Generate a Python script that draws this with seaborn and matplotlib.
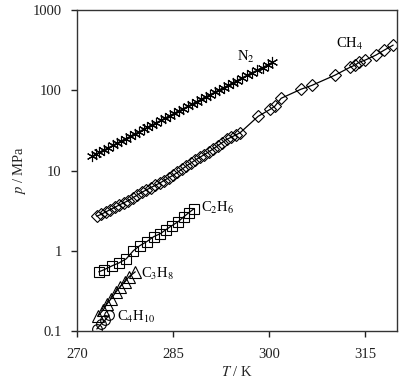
import numpy as np
import pandas as pd
import matplotlib
matplotlib.use("Agg")
import matplotlib.pyplot as plt
import seaborn as sns
from matplotlib.ticker import NullLocator

# (T in K, p in MPa)
n2_T = [272.3, 272.9, 273.5, 274.2, 274.9, 275.6, 276.2, 276.9, 277.6, 278.3,
        279.0, 279.7, 280.4, 281.0, 281.7, 282.4, 283.1, 283.8, 284.5, 285.2,
        285.9, 286.6, 287.3, 288.0, 288.7, 289.4, 290.1, 290.8, 291.5, 292.2,
        292.9, 293.6, 294.3, 295.0, 295.8, 296.6, 297.4, 298.2, 299.0, 299.8, 300.5]
n2_p = [15.0, 15.9, 16.8, 18.0, 19.2, 20.6, 21.8, 23.3, 24.9, 26.6,
        28.5, 30.5, 32.6, 34.5, 36.9, 39.5, 42.2, 45.1, 48.3, 51.6,
        55.2, 59.0, 63.1, 67.5, 72.2, 77.2, 82.5, 88.3, 94.4, 101,
        108, 115, 123, 132, 143, 154, 166, 179, 192, 207, 222]

ch4_T = [273.1, 273.8, 274.5, 275.2, 275.9, 276.6, 277.3, 278.0, 278.7, 279.4,
         280.1, 280.8, 281.5, 282.2, 282.9, 283.6, 284.3, 285.0, 285.7, 286.4,
         287.1, 287.8, 288.5, 289.2, 289.9, 290.6, 291.3, 292.0, 292.7, 293.4,
         294.1, 294.8, 295.5,
         298.3, 300.2, 300.9, 301.9, 305.0, 306.7, 310.3, 312.7, 313.4, 314.1,
         315.0, 316.7, 318.0, 319.4]
ch4_p = [2.69, 2.85, 3.05, 3.26, 3.47, 3.72, 3.95, 4.22, 4.56, 4.93,
         5.33, 5.71, 6.10, 6.52, 6.95, 7.50, 8.09, 8.71, 9.48, 10.4,
         11.4, 12.4, 13.5, 14.6, 15.8, 17.1, 18.6, 20.4, 22.3, 24.4,
         26.0, 27.7, 29.6,
         47.3, 57.9, 63.1, 79.4, 103, 115, 154, 194, 205, 224,
         237, 274, 316, 365]

c2h6_T = [273.4, 274.2, 275.5, 276.6, 277.7, 278.8, 279.8, 280.9, 282.0, 283.0,
          283.9, 284.8, 285.8, 286.7, 287.5, 288.3]
c2h6_p = [0.546, 0.579, 0.65, 0.708, 0.794, 1.0, 1.155, 1.30, 1.50, 1.63,
          1.83, 2.05, 2.30, 2.66, 2.99, 3.35]

c3h8_T = [273.3, 274.1, 274.7, 275.3, 276.1, 276.7, 277.5, 278.1, 279.1]
c3h8_p = [0.154, 0.183, 0.218, 0.251, 0.307, 0.355, 0.41, 0.473, 0.546]

c4h10_T = [273.1, 273.75, 274.4, 275.0]
c4h10_p = [0.106, 0.122, 0.137, 0.158]

series = [
    (n2_T, n2_p, (6, 2, 0), 8),
    (ch4_T, ch4_p, "D", 6),
    (c2h6_T, c2h6_p, "s", 7),
    (c3h8_T, c3h8_p, "^", 8),
    (c4h10_T, c4h10_p, "o", 7),
]

sns.set_theme(style="ticks")
plt.rcParams["font.family"] = ["Liberation Serif", "DejaVu Serif"]
plt.rcParams["mathtext.fontset"] = "stix"

fig = plt.figure(figsize=(4.03, 3.83), dpi=100)
ax = fig.add_axes([77 / 403, 1 - 331 / 383, 320 / 403, 321 / 383])

for T, p, mk, ms in series:
    df = pd.DataFrame({"T": T, "p": p})
    sns.lineplot(data=df, x="T", y="p", ax=ax, color="black", lw=0.9,
                 marker=mk, markersize=ms, markerfacecolor="none",
                 markeredgecolor="black", markeredgewidth=0.8, estimator=None)

ax.set_yscale("log")
ax.set_xlim(270, 320)
ax.set_ylim(0.1, 1000)
ax.set_xticks([270, 285, 300, 315])
ax.set_yticks([0.1, 1, 10, 100, 1000])
ax.set_yticklabels(["0.1", "1", "10", "100", "1000"])
ax.yaxis.set_minor_locator(NullLocator())
ax.tick_params(direction="out", length=4, width=1, labelsize=10.5,
               colors="#222222")
ax.tick_params(axis="y", pad=7)
ax.tick_params(axis="x", pad=8)
for s in ax.spines.values():
    s.set_color("#333333")
    s.set_linewidth(1.0)

ax.set_xlabel(r"$T$ / K", fontsize=10.5, labelpad=3)
ax.set_ylabel(r"$p$ / MPa", fontsize=10.5, labelpad=3)

lab = dict(fontsize=10.5, color="black")
ax.text(295.0, 230, "N$_2$", ha="left", va="baseline", **lab)
ax.text(310.5, 340, "CH$_4$", ha="left", va="baseline", **lab)
ax.text(289.4, 3.4, "C$_2$H$_6$", ha="left", va="center", **lab)
ax.text(280.0, 0.52, "C$_3$H$_8$", ha="left", va="center", **lab)
ax.text(276.2, 0.15, "C$_4$H$_{10}$", ha="left", va="center", **lab)

fig.savefig("out.png", dpi=100)
